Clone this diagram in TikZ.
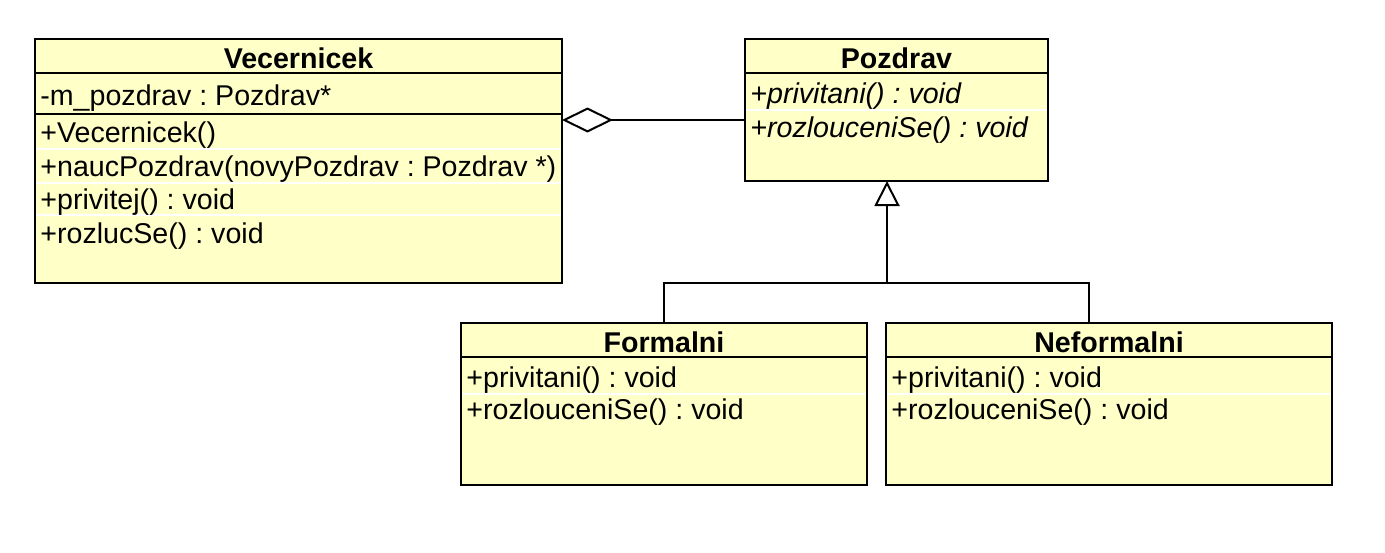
\documentclass[tikz,border=0pt]{standalone}
\usepackage{fontspec}
\setmainfont{Liberation Sans}
\usetikzlibrary{arrows.meta, positioning}
\definecolor{classfill}{RGB}{255,255,200}
\frenchspacing

\begin{document}
\begin{tikzpicture}[x=0.5pt, y=-0.5pt,
    every node/.style={font=\fontsize{14.3pt}{17pt}\selectfont},
    class/.style={draw, rectangle, line width=1pt, fill=classfill, anchor=north west, inner sep=0pt, outer sep=0pt},
    title/.style={anchor=north, minimum height=17pt, inner sep=0pt, yshift=-1pt, font=\fontsize{14.3pt}{17pt}\selectfont\bfseries},
    row/.style={anchor=west, inner sep=0pt, xshift=2.5pt, yshift=-2pt, text height=10.5pt, text depth=3pt},
    abstract/.style={row, font=\fontsize{14.3pt}{17pt}\selectfont\itshape},
    gap/.style={draw=white, line width=1pt},
    line/.style={line width=1pt}]
  \useasboundingbox (0,0) rectangle (1385,552);

  % classes
  \node[class, minimum width=263.5pt, minimum height=122pt] (Vecernicek) at (35,39) {};
  \node[class, minimum width=151.5pt, minimum height=71pt] (Pozdrav) at (745,39) {};
  \node[class, minimum width=203pt, minimum height=81pt] (Formalni) at (461,323) {};
  \node[class, minimum width=223pt, minimum height=81pt] (Neformalni) at (886,323) {};

  \node[title] (VecernicekT) at (Vecernicek.north) {Vecernicek};
  \node[title] (PozdravT) at (Pozdrav.north) {Pozdrav};
  \node[title] (FormalniT) at (Formalni.north) {Formalni};
  \node[title] (NeformalniT) at (Neformalni.north) {Neformalni};

  % compartments
  \draw[line] (Vecernicek.west |- 0,73) -- (Vecernicek.east |- 0,73);
  \draw[line] (Vecernicek.west |- 0,114) -- (Vecernicek.east |- 0,114);
  \draw[line] (Pozdrav.west |- 0,73) -- (Pozdrav.east |- 0,73);
  \draw[line] (Formalni.west |- 0,357) -- (Formalni.east |- 0,357);
  \draw[line] (Neformalni.west |- 0,357) -- (Neformalni.east |- 0,357);

  \foreach \y in {149,183,215}
    \draw[gap] ([xshift=0.5pt]Vecernicek.west |- 0,\y) -- ([xshift=-0.5pt]Vecernicek.east |- 0,\y);
  \draw[gap] ([xshift=0.5pt]Pozdrav.west |- 0,110) -- ([xshift=-0.5pt]Pozdrav.east |- 0,110);
  \draw[gap] ([xshift=0.5pt]Formalni.west |- 0,394) -- ([xshift=-0.5pt]Formalni.east |- 0,394);
  \draw[gap] ([xshift=0.5pt]Neformalni.west |- 0,394) -- ([xshift=-0.5pt]Neformalni.east |- 0,394);

  % members
  \node[row] (VecAttr) at (Vecernicek.west |- 0,94) {-m\_pozdrav : Pozdrav*};
  \foreach \txt [count=\i from 0] in {+Vecernicek(), +naucPozdrav(novyPozdrav : Pozdrav *), +privitej() : void, +rozlucSe() : void}
    \node[row] (VecOp\i) at (Vecernicek.west |- 0,{131+33.5*\i}) {\txt};
  \node[abstract] (PozOp0) at (Pozdrav.west |- 0,92) {+privitani() : void};
  \node[abstract] (PozOp1) at (Pozdrav.west |- 0,126) {+rozlouceniSe() : void};
  \node[row] (ForOp0) at (Formalni.west |- 0,376) {+privitani() : void};
  \node[row] (ForOp1) at (Formalni.west |- 0,408) {+rozlouceniSe() : void};
  \node[row] (NefOp0) at (Neformalni.west |- 0,376) {+privitani() : void};
  \node[row] (NefOp1) at (Neformalni.west |- 0,408) {+rozlouceniSe() : void};

  % relations
  \coordinate (join) at (887,283);
  \draw[line, -{Diamond[open, length=25.5pt, width=12.5pt]}] (Pozdrav.west |- 0,120) -- (Vecernicek.east |- 0,120);
  \draw[line, -{Triangle[open, length=12.5pt, width=12.5pt]}] (join) -- (join |- Pozdrav.south);
  \draw[line] (Formalni.north) |- (join) -| ([xshift=-10pt]Neformalni.north);
\end{tikzpicture}
\end{document}
